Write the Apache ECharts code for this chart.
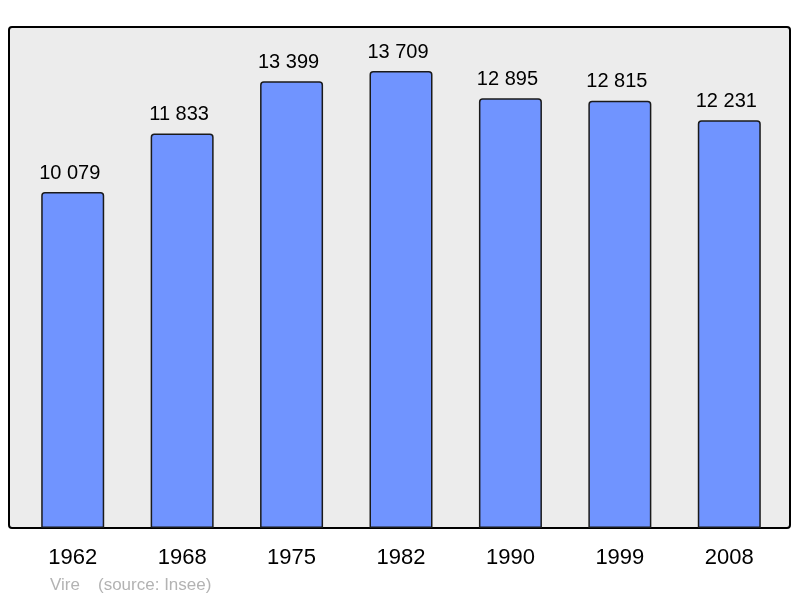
<!DOCTYPE html>
<html><head><meta charset="utf-8">
<script src="https://cdn.jsdelivr.net/npm/echarts@6/dist/echarts.min.js"></script>
<style>html,body{margin:0;padding:0;background:#fff}#c{width:800px;height:598px}</style>
</head><body><div id="c"></div>
<script>
var years = ['1962','1968','1975','1982','1990','1999','2008'];
var population = [10079, 11833, 13399, 13709, 12895, 12815, 12231];
var yMax = 15000;
var town = 'Vire';
var source = '(source: Insee)';

function fmt(v){ return String(v).replace(/\B(?=(\d{3})+(?!\d))/g, ' '); }

var FONT = 'Liberation Sans, Arial, sans-serif';
var chart = echarts.init(document.getElementById('c'), null, {renderer:'canvas'});
chart.setOption({
  animation:false,
  backgroundColor:'#ffffff',
  textStyle:{fontFamily:FONT},
  graphic:[
    {type:'rect', z:-10, shape:{x:9, y:27, width:781, height:501, r:3},
     style:{fill:'#ececec', stroke:'#000000', lineWidth:2}},
    {type:'text', x:50, y:585, style:{text:town, fill:'#b3b3b3', fontSize:17, fontFamily:FONT, verticalAlign:'middle'}},
    {type:'text', x:98, y:585, style:{text:source, fill:'#b3b3b3', fontSize:17, fontFamily:FONT, verticalAlign:'middle'}}
  ],
  grid:{left:18, right:16, top:28, bottom:70, containLabel:false},
  xAxis:{type:'category', data:years, boundaryGap:true,
    axisLine:{show:false}, axisTick:{show:false},
    axisLabel:{color:'#000', fontSize:22, margin:19}},
  yAxis:{type:'value', min:0, max:yMax, show:false, splitLine:{show:false}},
  series:[{type:'bar', data:population, barWidth:63,
    itemStyle:{color:'#7094ff', borderColor:'#1a1a1a', borderWidth:1.5, borderRadius:[3,3,0,0]},
    label:{show:true, position:'top', distance:9, offset:[-3,0], color:'#000', fontSize:20,
      formatter:function(p){return fmt(p.value);}}
  }]
});
</script></body></html>
